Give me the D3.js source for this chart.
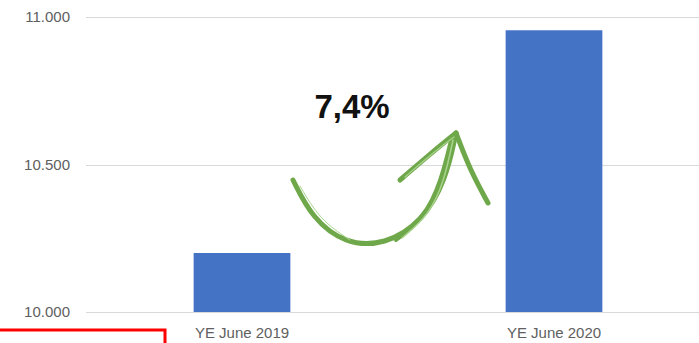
<!DOCTYPE html>
<html>
<head>
<meta charset="utf-8">
<script src="https://cdn.jsdelivr.net/npm/d3@7"></script>
<style>
  html, body { margin: 0; padding: 0; background: #fff; }
  svg { display: block; }
</style>
</head>
<body>
<svg id="chart" width="699" height="343"></svg>
<script>
// Year-end June totals
const categories = ["YE June 2019", "YE June 2020"];
const values = [10200, 10955];
const tickValues = [10000, 10500, 11000];
const growthLabel = "7,4%";

const W = 699, H = 343;
const svg = d3.select("#chart");

const y = d3.scaleLinear().domain([10000, 11000]).range([312, 17]);
const x = d3.scaleBand().domain(categories).range([86, 710])
  .paddingInner(0.69).paddingOuter(0.345);

const fmt = v => d3.format(",")(v).replace(/,/g, ".");

// horizontal gridlines
svg.append("g")
  .selectAll("line")
  .data(tickValues)
  .join("line")
  .attr("x1", 86).attr("x2", W)
  .attr("y1", d => Math.round(y(d)) + 0.5)
  .attr("y2", d => Math.round(y(d)) + 0.5)
  .attr("stroke", "#d9d9d9").attr("stroke-width", 1.2);

// value axis labels
svg.append("g")
  .selectAll("text")
  .data(tickValues)
  .join("text")
  .attr("x", 70).attr("y", d => y(d))
  .attr("dy", "0.35em")
  .attr("text-anchor", "end")
  .attr("font-family", "Liberation Sans, Arial, sans-serif")
  .attr("font-size", 15)
  .attr("fill", "#606060")
  .text(fmt);

// bars
svg.append("g")
  .selectAll("rect")
  .data(values)
  .join("rect")
  .attr("x", (d, i) => x(categories[i]))
  .attr("width", x.bandwidth())
  .attr("y", d => y(d))
  .attr("height", d => y(10000) - y(d))
  .attr("fill", "#4472c4");

// category labels
svg.append("g")
  .selectAll("text")
  .data(categories)
  .join("text")
  .attr("x", d => x(d) + x.bandwidth() / 2)
  .attr("y", 338)
  .attr("text-anchor", "middle")
  .attr("font-family", "Liberation Sans, Arial, sans-serif")
  .attr("font-size", 15)
  .attr("fill", "#606060")
  .text(d => d);

// growth annotation
svg.append("text")
  .attr("x", 352).attr("y", 118)
  .attr("text-anchor", "middle")
  .attr("font-family", "Liberation Sans, Arial, sans-serif")
  .attr("font-weight", "bold")
  .attr("font-size", 33)
  .attr("fill", "#111")
  .text(growthLabel);

// hand-drawn style curved arrow
const curve = d3.line().curve(d3.curveBasis);
const arrow = svg.append("g").attr("fill", "none")
  .attr("stroke-linecap", "round").attr("stroke-linejoin", "round");
const green = "#6fa84a", light = "#a9d48c";
const body = [[293, 180], [312, 218], [345, 244], [385, 245], [422, 222], [446, 180], [456, 133]];
const upper = [[396, 240], [424, 218], [441, 182], [452, 136]];
arrow.append("path").attr("d", curve(body))
  .attr("stroke", green).attr("stroke-width", 5);
arrow.append("path").attr("d", curve(upper))
  .attr("stroke", green).attr("stroke-width", 4);
arrow.append("path").attr("d", curve([[402, 238], [429, 215], [444, 182], [453, 140]]))
  .attr("stroke", light).attr("stroke-width", 1.5);
arrow.append("path").attr("d", curve([[300, 186], [320, 220], [350, 240]]))
  .attr("stroke", light).attr("stroke-width", 1);
const barbL = [[456, 133], [430, 154], [400, 180]];
const barbR = [[456, 133], [470, 170], [488, 203]];
arrow.append("path").attr("d", curve(barbL))
  .attr("stroke", green).attr("stroke-width", 5);
arrow.append("path").attr("d", curve(barbR))
  .attr("stroke", green).attr("stroke-width", 5);
arrow.append("path").attr("d", curve([[454, 137], [428, 157], [405, 177]]))
  .attr("stroke", light).attr("stroke-width", 1.2);

// red outline box at lower left
svg.append("rect")
  .attr("x", -5).attr("y", 330)
  .attr("width", 170).attr("height", 40)
  .attr("fill", "none")
  .attr("stroke", "#ff0000").attr("stroke-width", 3);
</script>
</body>
</html>
